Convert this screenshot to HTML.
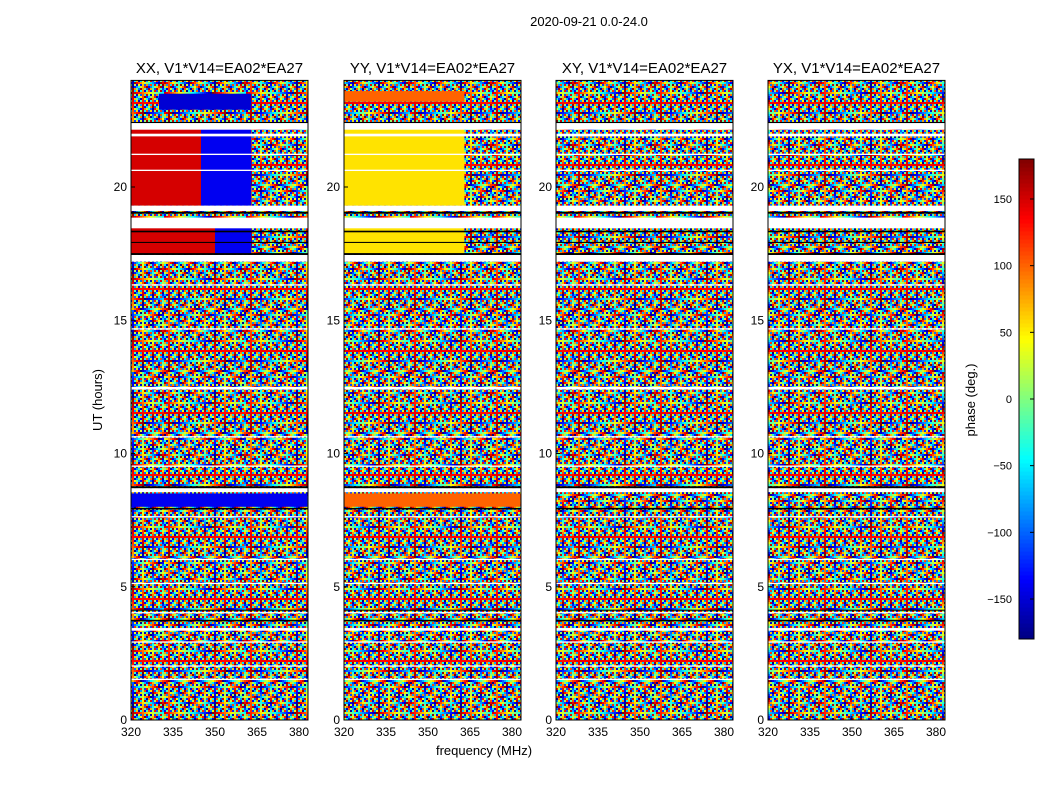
<!DOCTYPE html>
<html><head><meta charset="utf-8"><style>
body{margin:0;background:#fff;width:1050px;height:800px;overflow:hidden;font-family:"Liberation Sans",sans-serif}
svg text{font-family:"Liberation Sans",sans-serif}
</style></head><body>
<svg id="fig" width="1050" height="800" xmlns="http://www.w3.org/2000/svg">
<defs><pattern id="noise" patternUnits="userSpaceOnUse" width="82" height="62"><g id="noiseTile"></g></pattern></defs>
<text x="589" y="26" text-anchor="middle" font-size="13">2020-09-21 0.0-24.0</text>
<text x="484" y="755" text-anchor="middle" font-size="13">frequency (MHz)</text>
<text transform="translate(102,400) rotate(-90)" text-anchor="middle" font-size="13">UT (hours)</text>
<text transform="translate(975,400) rotate(-90)" text-anchor="middle" font-size="13">phase (deg.)</text>
<g id="panels"></g>
<g id="cbar"></g>
</svg>
<script>
const panelTitles=["XX, V1*V14=EA02*EA27","YY, V1*V14=EA02*EA27","XY, V1*V14=EA02*EA27","YX, V1*V14=EA02*EA27"];
const panelX=[131,344,556,768];
const xTicks=[320,335,350,365,380];
const yTicks=[0,5,10,15,20];
const cbarTicks=[-150,-100,-50,0,50,100,150];
// coherent-phase segments per panel: [hourStart, hourEnd, freqStart, freqEnd, phaseDeg]
const segXX=[[17.5,18.8,320,350,150],[17.5,18.8,350,363,-140],[19.3,22.3,320,345,150],[19.3,22.3,345,363,-140],[8.0,8.5,320,383,-140],[22.9,23.5,330,363,-150]];
const segYY=[[17.5,18.8,320,363,55],[19.3,22.3,320,363,55],[8.0,8.5,320,383,100],[23.2,23.6,320,363,100]];
const segXY=[];
const segYX=[];
const segments=[segXX,segYY,segXY,segYX];
// flagged (blank) time ranges [hourStart, hourEnd]
const flagWhite=[[22.15,22.4],[21.9,22.0],[21.2,21.25],[20.6,20.65],[19.1,19.3],[18.45,18.85],[17.2,17.45],[16.3,16.35],[14.65,14.7],[12.4,12.5],[10.6,10.65],[9.5,9.55],[8.55,8.7],[7.6,7.65],[6.0,6.05],[5.1,5.15],[4.0,4.05],[3.35,3.45],[2.9,2.95],[2.0,2.05],[1.5,1.55]];
const flagBlack=[[22.4,22.44],[19.0,19.07],[18.3,18.36],[17.9,17.94],[17.45,17.52],[8.7,8.77],[7.9,7.96],[3.7,3.76],[4.1,4.14]];
const H0=720,PPH=26.65,PW=177,FX0=320,PPM=2.8;

function jet(v){
  const r=Math.min(1,Math.max(0,1.5-Math.abs(4*v-3))),g=Math.min(1,Math.max(0,1.5-Math.abs(4*v-2))),b=Math.min(1,Math.max(0,1.5-Math.abs(4*v-1)));
  return `rgb(${Math.round(r*255)},${Math.round(g*255)},${Math.round(b*255)})`;
}
const phaseColor=p=>jet((p+180)/360);
const NS="http://www.w3.org/2000/svg";
function mk(tag,attrs,parent){const e=document.createElementNS(NS,tag);for(const k in attrs)e.setAttribute(k,attrs[k]);parent.appendChild(e);return e;}
// noise texture tile (visual texture only)
const tile=document.getElementById('noiseTile');
for(let i=0;i<41;i++)for(let j=0;j<31;j++){
  const h=(((i*7919+j*104729+i*j*613)%1009)/1009);
  mk('rect',{x:i*2,y:j*2,width:2,height:2,fill:jet(h)},tile);
}
const yH=h=>H0-h*PPH;
const xF=(p,f)=>panelX[p]+(f-FX0)*PPM;
const panels=document.getElementById('panels');
panelX.forEach((px,p)=>{
  const g=mk('g',{},panels);
  
  
  const bg=mk('rect',{x:px,y:yH(24),width:PW,height:24*PPH,fill:'url(#noise)'},g);
  
  
  segments[p].forEach(s=>{
    const r=mk('rect',{x:xF(p,s[2]),y:yH(s[1]),width:(s[3]-s[2])*PPM,height:(s[1]-s[0])*PPH,fill:phaseColor(s[4])},g);
    
    
  });
  flagWhite.forEach(s=>{const r=mk('rect',{x:px,y:yH(s[1]),width:PW,height:(s[1]-s[0])*PPH,fill:'#fff'},g);
    });
  flagBlack.forEach(s=>{const r=mk('rect',{x:px,y:yH(s[1]),width:PW,height:(s[1]-s[0])*PPH,fill:'#000'},g);
    });
  const fr=mk('rect',{x:px,y:yH(24),width:PW,height:24*PPH,fill:'none',stroke:'#000','stroke-width':1},g);
  
  const t=mk('text',{x:px+PW/2,y:73,'text-anchor':'middle','font-size':15},g);t.textContent=panelTitles[p];
  
  xTicks.forEach(v=>{const x=xF(p,v);
    mk('line',{x1:x,x2:x,y1:H0,y2:H0-4,stroke:'#000'},g);
    const l=mk('text',{x:x,y:736,'text-anchor':'middle','font-size':12},g);l.textContent=v;
    });
  yTicks.forEach(v=>{const y=yH(v);
    mk('line',{x1:px,x2:px+4,y1:y,y2:y,stroke:'#000'},g);
    const l=mk('text',{x:px-4,y:y+4,'text-anchor':'end','font-size':12},g);l.textContent=v;
    });
});
const cb=document.getElementById('cbar');


const CB0=639,CBS=480/360;
for(let i=0;i<120;i++){const p=-180+i*3;
  mk('rect',{x:1019,y:CB0-(p+3+180)*CBS,width:15,height:3*CBS+0.5,fill:phaseColor(p+1.5)},cb);}
mk('rect',{x:1019,y:159,width:15,height:480,fill:'none',stroke:'#000'},cb);
cbarTicks.forEach(v=>{const y=CB0-(v+180)*CBS;
  mk('line',{x1:1030,x2:1034,y1:y,y2:y,stroke:'#000'},cb);
  const l=mk('text',{x:1012,y:y+4,'text-anchor':'end','font-size':11},cb);l.textContent=v<0?'\u2212'+(-v):v;
  });
</script>
</body></html>
